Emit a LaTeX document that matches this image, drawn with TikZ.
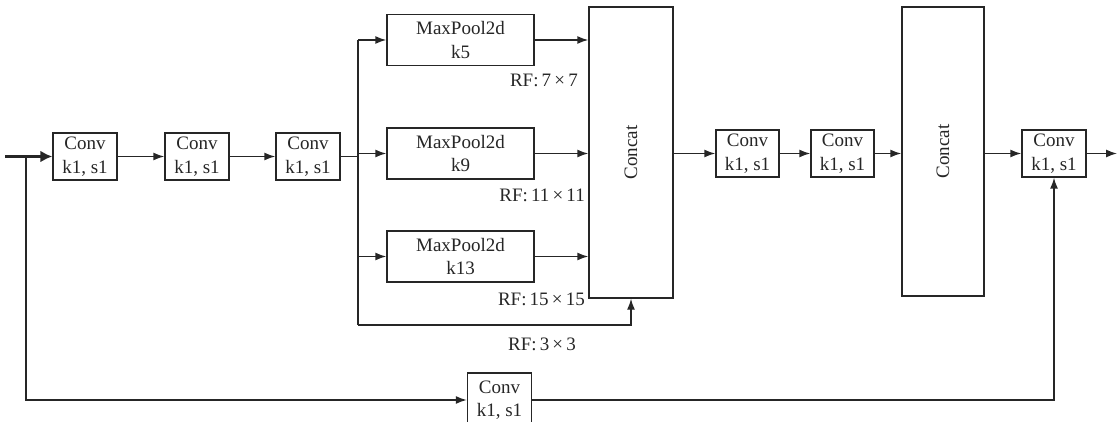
\documentclass[tikz,border=0pt]{standalone}
\usepackage{fontspec}
\setmainfont{Liberation Serif}
\usetikzlibrary{arrows.meta}
\definecolor{ink}{gray}{0.15}
\tikzset{
  box/.style={draw=ink, line width=1.4pt, fill=white, align=center, inner sep=0pt,
    text=ink, font=\fontsize{19}{23.5}\selectfont},
  convbox/.style={box, minimum width=64pt, minimum height=47pt},
  poolbox/.style={box, minimum width=147pt, minimum height=51pt},
  catbox/.style={draw=ink, line width=1.4pt, fill=white, inner sep=0pt},
  cattext/.style={rotate=90, text=ink, font=\fontsize{19}{23}\selectfont},
  link/.style={draw=ink, line width=1.4pt, -{Latex[length=11pt,width=8pt]}},
  wire/.style={draw=ink, line width=1.4pt},
  rf/.style={text=ink, font=\fontsize{19}{22}\selectfont, inner sep=0pt}
}
\begin{document}
\begin{tikzpicture}[x=1pt,y=-1pt]
\useasboundingbox (0,0) rectangle (1117,422);

% backbone convolutions
\node[convbox] (c1) at (85,156.5) {Conv\\k1, s1};
\node[convbox] (c2) at (197,156.5) {Conv\\k1, s1};
\node[convbox] (c3) at (308,156.5) {Conv\\k1, s1};

% parallel pooling branches
\node[poolbox] (p5)  at (460.5,40)    {MaxPool2d\\k5};
\node[poolbox] (p9)  at (460.5,153.5) {MaxPool2d\\k9};
\node[poolbox] (p13) at (460.5,256.5) {MaxPool2d\\k13};

% first concatenation
\node[catbox, minimum width=84pt, minimum height=291pt] (cat1) at (631,152.5) {};
\node[cattext] at (cat1.center) {Concat};

\node[convbox, minimum width=63pt] (c4) at (747.5,153.5) {Conv\\k1, s1};
\node[convbox, minimum width=63pt] (c5) at (842.5,153.5) {Conv\\k1, s1};

% second concatenation
\node[catbox, minimum width=82pt, minimum height=289pt] (cat2) at (943,151.5) {};
\node[cattext] at (cat2.center) {Concat};

\node[convbox] (c6) at (1054,153.5) {Conv\\k1, s1};

% shortcut convolution
\node[convbox, minimum height=54pt] (cb) at (499.5,400) {Conv\\k1, s1};

% receptive field labels
\node[rf, anchor=east] (rf7)  at (578,80)  {RF:\,7\,×\,7};
\node[rf, anchor=east] (rf11) at (585,195) {RF:\,11\,×\,11};
\node[rf, anchor=east] (rf15) at (585,299) {RF:\,15\,×\,15};
\node[rf] (rf3) at (542,344) {RF:\,3\,×\,3};

% coordinates for the wiring
\coordinate (in) at (5,156.5);
\coordinate (br) at (26,156.5);
\coordinate (sp) at (358,156.5);
\coordinate (sptop) at (358,40);
\coordinate (spbot) at (358,325);
\coordinate (out) at (1117,153.5);

% input and shortcut branch
\draw[draw=ink, line width=2.8pt, -{Latex[length=12pt,width=12pt]}] (in) -- (c1.west);
\draw[link] (br) |- (cb.west);
\draw[link] (cb.east) -| (c6.south);

% backbone
\draw[link] (c1) -- (c2);
\draw[link] (c2) -- (c3);
\draw[wire] (c3.east) -- (sp);
\draw[wire] (sptop) -- (spbot);

% pooling branches
\draw[link] (sptop) -- (p5.west);
\draw[link] (sptop |- p9.west) -- (p9.west);
\draw[link] (sptop |- p13.west) -- (p13.west);
\draw[link] (p5.east) -- (p5.east -| cat1.west);
\draw[link] (p9.east) -- (p9.east -| cat1.west);
\draw[link] (p13.east) -- (p13.east -| cat1.west);
\draw[link] (spbot) -| (cat1.south);

% after first concatenation
\draw[link] (cat1.east |- c4.west) -- (c4.west);
\draw[link] (c4) -- (c5);
\draw[link] (c5.east) -- (c5.east -| cat2.west);
\draw[link] (cat2.east |- c6.west) -- (c6.west);
\draw[link] (c6.east) -- (out);
\end{tikzpicture}
\end{document}
